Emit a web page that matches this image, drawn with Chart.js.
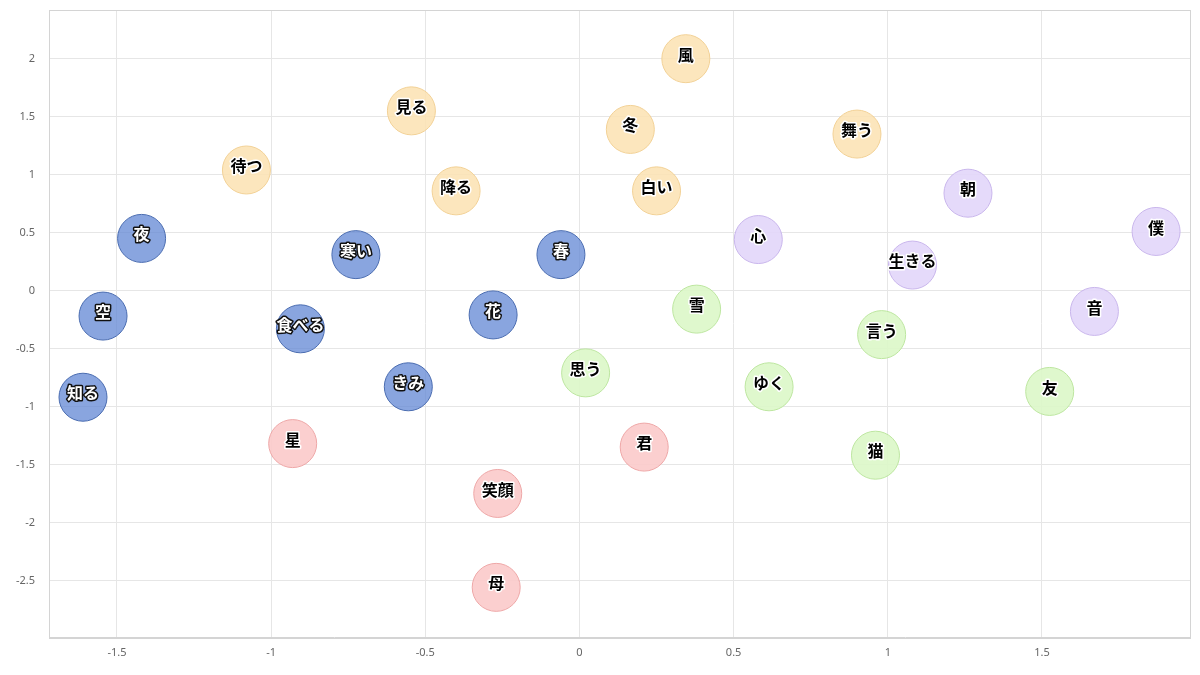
<!DOCTYPE html>
<html>
<head>
<meta charset="utf-8">
<script src="https://cdn.jsdelivr.net/npm/chart.js@4"></script>
<style>
html,body{margin:0;padding:0;background:#fff;}
#wrap{width:1200px;height:675px;}
</style>
</head>
<body>
<div id="wrap"><canvas id="c" width="1200" height="675"></canvas></div>
<script>
// Group 1 (blue)
const blueWords = ["夜","空","知る","寒い","食べる","きみ","花","春"];
const blueX = [-1.42,-1.545,-1.61,-0.725,-0.905,-0.555,-0.28,-0.06];
const blueY = [0.45,-0.22,-0.92,0.31,-0.33,-0.83,-0.21,0.31];
// Group 2 (orange)
const orangeWords = ["風","見る","冬","舞う","待つ","降る","白い"];
const orangeX = [0.345,-0.545,0.165,0.90,-1.08,-0.40,0.25];
const orangeY = [2.0,1.55,1.39,1.35,1.04,0.86,0.86];
// Group 3 (purple)
const purpleWords = ["朝","僕","心","生きる","音"];
const purpleX = [1.26,1.87,0.58,1.08,1.67];
const purpleY = [0.84,0.51,0.44,0.22,-0.18];
// Group 4 (green)
const greenWords = ["雪","言う","思う","ゆく","友","猫"];
const greenX = [0.38,0.98,0.02,0.615,1.525,0.96];
const greenY = [-0.16,-0.38,-0.71,-0.83,-0.87,-1.42];
// Group 5 (pink)
const pinkWords = ["星","君","笑顔","母"];
const pinkX = [-0.93,0.21,-0.265,-0.27];
const pinkY = [-1.32,-1.35,-1.75,-2.56];

const xMin = -1.72, xMax = 1.98, yMin = -2.995, yMax = 2.42;

function pts(xs, ys){ return xs.map((x,i)=>({x:x, y:ys[i], r:24})); }

const groups = [
  {words:blueWords, data:pts(blueX,blueY), bg:'rgba(96,134,212,0.74)', bd:'#4a6cb0', invert:true},
  {words:orangeWords, data:pts(orangeX,orangeY), bg:'rgba(252,226,178,0.85)', bd:'#f2d196', invert:false},
  {words:purpleWords, data:pts(purpleX,purpleY), bg:'rgba(226,214,249,0.9)', bd:'#c9b6ec', invert:false},
  {words:greenWords, data:pts(greenX,greenY), bg:'rgba(220,247,200,0.9)', bd:'#bde6a0', invert:false},
  {words:pinkWords, data:pts(pinkX,pinkY), bg:'rgba(251,202,202,0.9)', bd:'#eea7a7', invert:false}
];

const labelPlugin = {
  id:'wordLabels',
  afterDatasetsDraw(chart){
    const ctx = chart.ctx;
    ctx.save();
    ctx.font = 'bold 16px "Noto Sans CJK JP"';
    ctx.textAlign = 'center';
    ctx.textBaseline = 'middle';
    ctx.lineJoin = 'round';
    chart.data.datasets.forEach((ds, di)=>{
      const meta = chart.getDatasetMeta(di);
      const g = groups[di];
      meta.data.forEach((el, i)=>{
        const t = g.words[i];
        const x = el.x, y = el.y - 4;
        if (g.invert){
          ctx.lineWidth = 3; ctx.strokeStyle = '#111';
          ctx.strokeText(t, x, y);
          ctx.fillStyle = '#fff';
          ctx.fillText(t, x, y);
        } else {
          ctx.lineWidth = 3; ctx.strokeStyle = '#fff';
          ctx.strokeText(t, x, y);
          ctx.fillStyle = '#000';
          ctx.fillText(t, x, y);
        }
      });
    });
    ctx.restore();
  }
};

const keepHalf = (scale)=>{
  scale.ticks = scale.ticks.filter(t => Math.abs(t.value*2 - Math.round(t.value*2)) < 1e-6);
};
const fmt = (v)=> String(Math.round(v*10)/10);

new Chart(document.getElementById('c'), {
  type:'bubble',
  data:{
    datasets: groups.map(g=>({
      data:g.data,
      backgroundColor:g.bg,
      borderColor:g.bd,
      borderWidth:1
    }))
  },
  options:{
    responsive:false,
    animation:false,
    devicePixelRatio:1,
    layout:{autoPadding:false, padding:{left:2,right:10,top:10,bottom:8}},
    plugins:{legend:{display:false}, tooltip:{enabled:false}},
    scales:{
      x:{
        type:'linear', min:xMin, max:xMax,
        afterBuildTicks:keepHalf,
        ticks:{stepSize:0.5, color:'#666', font:{family:'"Noto Sans"', size:11}, padding:8, callback:fmt},
        grid:{color:'#e6e6e6', drawTicks:false},
        border:{color:'#d4d4d4'}
      },
      y:{
        type:'linear', min:yMin, max:yMax,
        afterBuildTicks:keepHalf,
        afterFit:(s)=>{ s.paddingTop = 0; s.paddingBottom = 0; },
        ticks:{stepSize:0.5, color:'#666', font:{family:'"Noto Sans"', size:11}, padding:14, callback:fmt},
        grid:{color:'#e6e6e6', drawTicks:false},
        border:{color:'#d4d4d4'}
      }
    }
  },
  plugins:[labelPlugin, {
    id:'frame',
    afterDraw(chart){
      const a = chart.chartArea, ctx = chart.ctx;
      ctx.save();
      ctx.strokeStyle = '#d4d4d4'; ctx.lineWidth = 1;
      ctx.strokeRect(Math.round(a.left)+0.5, Math.round(a.top)+0.5, Math.round(a.right-a.left), Math.round(a.bottom-a.top));
      ctx.restore();
    }
  }]
});
</script>
</body>
</html>
